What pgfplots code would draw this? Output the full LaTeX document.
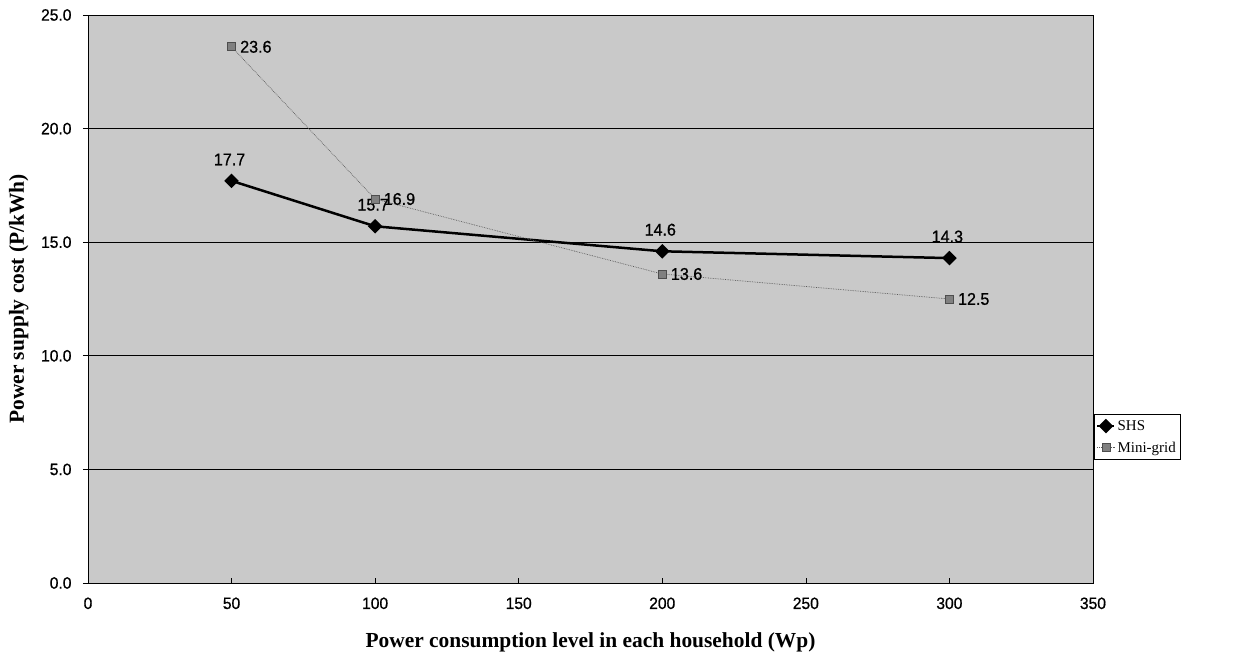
\documentclass[border=0pt]{standalone}
\usepackage{pgfplots}
\pgfplotsset{compat=1.18}
\usepackage{fontspec}
\setmainfont{Liberation Serif}
\newfontfamily\arialn[FakeStretch=0.95,FakeBold=0.8]{Liberation Sans}
\definecolor{plotbg}{RGB}{201,201,201}
\definecolor{gridline}{RGB}{90,90,90}
\definecolor{minimark}{RGB}{128,128,128}

\begin{document}
\begin{tikzpicture}
\begin{axis}[
    scale only axis,
    width=1005bp, height=568bp,
    xmin=0, xmax=350, ymin=0, ymax=25,
    xtick={0,50,...,350}, ytick={0,5,...,25},
    ymajorgrids,
    major grid style={black, line width=0.8pt},
    axis background/.style={fill=plotbg},
    axis line style={black, line width=0.9pt},
    tick style={black, line width=0.6pt},
    xtick pos=bottom, ytick pos=left,
    xtick align=inside, ytick align=outside,
    major tick length=5bp,
    /pgf/number format/assume math mode=true,
    ticklabel style={font=\arialn\fontsize{16.5}{18}\selectfont},
    yticklabel style={/pgf/number format/fixed, /pgf/number format/fixed zerofill,
        /pgf/number format/precision=1, xshift=-8bp},
    xticklabel style={yshift=-11bp},
    xlabel={\bfseries Power consumption level in each household (Wp)},
    ylabel={\bfseries Power supply cost (P/kWh)},
    label style={font=\fontsize{21.5}{24}\selectfont},
    xlabel style={at={(axis description cs:0.5,-0.104)}, anchor=center},
    ylabel style={at={(axis description cs:-0.069,0.5)}, anchor=center},
    legend style={at={(axis description cs:1,0.257)}, anchor=west, xshift=1bp,
        draw=black, fill=white, font=\fontsize{15}{17}\selectfont,
        inner xsep=2bp, inner ysep=4bp, row sep=6bp},
    legend cell align=left,
    nodes near coords,
    point meta=y,
    every node near coord/.append style={font=\arialn\fontsize{17}{19}\selectfont,
        /pgf/number format/fixed, /pgf/number format/fixed zerofill,
        /pgf/number format/precision=1},
]
\addplot[black, line width=2.5bp, mark=square*, mark size=3.9bp,
    mark options={solid, fill=black, rotate=45},
    nodes near coords align={above}, every node near coord/.append style={yshift=11bp, xshift=-2bp}]
  coordinates {(50,17.7) (100,15.7) (200,14.6) (300,14.3)};
\addlegendentry{SHS}
\addplot[gridline, line width=0.7pt, densely dotted, mark=square*, mark size=4bp,
    mark options={solid, fill=minimark, draw=minimark!60!black},
    nodes near coords align={right}, every node near coord/.append style={xshift=5bp, text=black}]
  coordinates {(50,23.6) (100,16.9) (200,13.6) (300,12.5)};
\addlegendentry{Mini-grid}
\coordinate (O) at (rel axis cs:0,0);
\end{axis}
\path (O) ++(-88bp,-75bp) rectangle ++(1246bp,658bp);
\end{tikzpicture}
\end{document}
